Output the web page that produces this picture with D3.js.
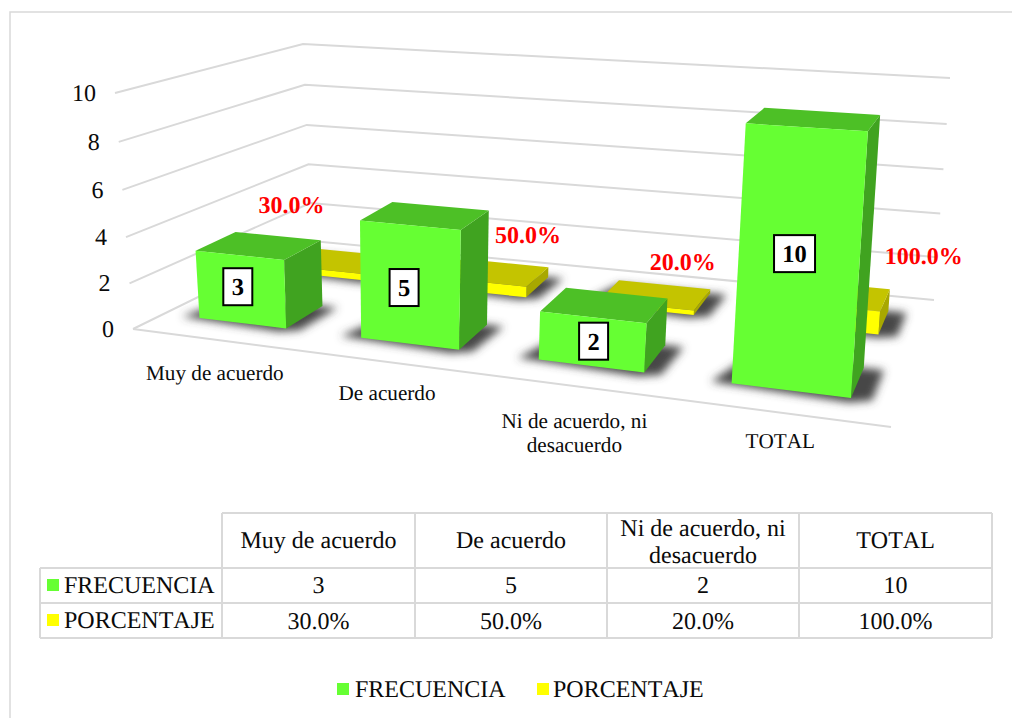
<!DOCTYPE html>
<html><head><meta charset="utf-8">
<script src="https://cdn.jsdelivr.net/npm/d3@7"></script>
<style>html,body{margin:0;padding:0;background:#fff}svg{display:block}text{font-family:"Liberation Serif",serif;font-kerning:none;text-rendering:geometricPrecision}</style>
</head><body><svg id="c" width="1012" height="718"></svg>
<script>
const categories = ["Muy de acuerdo","De acuerdo","Ni de acuerdo, ni desacuerdo","TOTAL"];
const frecuencia = [3,5,2,10];
const porcentaje = [0.3,0.5,0.2,1.0];
const seriesNames = ["FRECUENCIA","PORCENTAJE"];
const yTicks = [0,2,4,6,8,10];
const W=1012,H=718;
const GRID="#d9d9d9",GREEN="#66ff33",YELLOW="#ffff00",INK="#0a0a0a";

// perspective frame: floor and ceiling quads, [front-left, front-right, back-right, back-left]
const floorQuad=[[133,329],[891,427],[934,300],[312,241]];
const topQuad=[[115,93],[909,147],[950,78],[303,44]];
function homography(q){
  const [p0,p1,p2,p3]=q;
  const dx1=p1[0]-p2[0],dx2=p3[0]-p2[0],sx=p0[0]-p1[0]+p2[0]-p3[0];
  const dy1=p1[1]-p2[1],dy2=p3[1]-p2[1],sy=p0[1]-p1[1]+p2[1]-p3[1];
  const den=dx1*dy2-dx2*dy1;
  const g=(sx*dy2-dx2*sy)/den,h=(dx1*sy-sx*dy1)/den;
  const a=p1[0]-p0[0]+g*p1[0],b=p3[0]-p0[0]+h*p3[0],c=p0[0];
  const d=p1[1]-p0[1]+g*p1[1],e=p3[1]-p0[1]+h*p3[1],f=p0[1];
  return (u,w)=>{const z=g*u+h*w+1;return [(a*u+b*w+c)/z,(d*u+e*w+f)/z];};
}
const floorH=homography(floorQuad),topH=homography(topQuad);
const yScale=d3.scaleLinear().domain([0,10]).range([0,1]);
const K=1.045;
function P(u,w,v){
  const t0=yScale(v),t=t0/(t0+(1-t0)*K);
  const a=floorH(u,w),b=topH(u,w);
  return [a[0]+(b[0]-a[0])*t,a[1]+(b[1]-a[1])*t];
}
const uBand=d3.scaleBand().domain(categories).range([0,1]).paddingInner(0.444).paddingOuter(0.222);
const wBand=d3.scaleBand().domain(seriesNames).range([0,1]).paddingInner(0.56).paddingOuter(0.3);
// small corrections of the picture's category spacing along the floor
const uWarp=d3.scaleLinear().domain([0,.25,.5,.75,1]).range([0,.25,.505,.752,1.002]);
const frontShift=d3.scaleLinear().domain([0,.4,.9,1]).range([.002,.0055,0,0]);

const svg=d3.select("#c");
svg.append("rect").attr("width",W).attr("height",H).attr("fill","#fff");
const defs=svg.append("defs");
defs.append("filter").attr("id","blur").attr("x","-40%").attr("y","-80%").attr("width","180%").attr("height","260%")
  .append("feGaussianBlur").attr("stdDeviation",4.5);

// chart frame
svg.append("path").attr("d","M10,718V12H1012").attr("fill","none").attr("stroke",GRID).attr("stroke-width",1.5);

// gridlines
const line=d3.line();
const gridG=svg.append("g").attr("fill","none").attr("stroke",GRID).attr("stroke-width",2);
yTicks.forEach(v=>{
  gridG.append("path").attr("d",line([P(0,0,v),P(0,1,v),P(1,1,v)]));
});
gridG.append("path").attr("d",line([P(0,0,0),P(1,0,0)]));

// y tick labels
svg.append("g").selectAll("text").data(yTicks).join("text")
  .attr("x",v=>P(0,0,v)[0]-19).attr("y",v=>P(0,0,v)[1]+8)
  .attr("text-anchor","end").attr("font-size",24).attr("fill",INK).text(d=>d);

function drawSeries(name,values,cFront,cTop,cSide){
  const g=svg.append("g");
  const w0=wBand(name),w1=w0+wBand.bandwidth();
  categories.forEach((c,i)=>{
    const u0=uWarp(uBand(c)),u1=uWarp(uBand(c)+uBand.bandwidth());
    const shadow=[P(u0-.024,w0-.005,0),P(u1+.0,w0-.03,0),P(u1+.024,w0,0),P(u1+.024,w1,0),P(u0,w1,0)];
    g.append("path").attr("d",line(shadow)+"Z").attr("fill","#474747").attr("filter","url(#blur)");
  });
  categories.forEach((c,i)=>{
    const u0=uWarp(uBand(c)),u1=uWarp(uBand(c)+uBand.bandwidth()),v=values[i];
    const s=frontShift((u0+u1)/2);
    g.append("path").attr("d",line([P(u1+s,w0,0),P(u1,w1,0),P(u1,w1,v),P(u1+s,w0,v)])+"Z").attr("fill",cSide);
    g.append("path").attr("d",line([P(u0+s,w0,v),P(u1+s,w0,v),P(u1,w1,v),P(u0,w1,v)])+"Z").attr("fill",cTop);
    g.append("path").attr("d",line([P(u0+s,w0,0),P(u1+s,w0,0),P(u1+s,w0,v),P(u0+s,w0,v)])+"Z").attr("fill",cFront);
  });
}
drawSeries(seriesNames[1],porcentaje,YELLOW,"#c4c400","#a8a800");
drawSeries(seriesNames[0],frecuencia,GREEN,"#4dc026","#40a320");

// value labels on green bars (nudges are label placement, in px)
const freqNudge=[[-1,-2.5],[0,3],[7,0],[-1.5,-8]];
const lab=svg.append("g");
frecuencia.forEach((v,i)=>{
  const c=categories[i],w=wBand(seriesNames[0]);
  const uc=uBand(c)+uBand.bandwidth()/2;
  const p=P(uc,w,v/2),x=p[0]+freqNudge[i][0],y=p[1]+freqNudge[i][1];
  const bw=String(v).length>1?41:29;
  lab.append("rect").attr("x",x-bw/2).attr("y",y-18.5).attr("width",bw).attr("height",37)
    .attr("fill","#fff").attr("stroke","#000").attr("stroke-width",2);
  lab.append("text").attr("x",x).attr("y",y+8.5).attr("text-anchor","middle")
    .attr("font-size",24.5).attr("font-weight","bold").attr("fill","#000").text(v);
});
// percent labels
const pctNudge=[[-50.5,-56],[38,-37],[31,-32],[93,-39]];
porcentaje.forEach((v,i)=>{
  const c=categories[i],w=wBand(seriesNames[1])+wBand.bandwidth()/2;
  const uc=uBand(c)+uBand.bandwidth()/2;
  const p=P(uc,w,v);
  lab.append("text").attr("x",p[0]+pctNudge[i][0]).attr("y",p[1]+pctNudge[i][1]+8)
    .attr("text-anchor","middle").attr("font-size",24).attr("font-weight","bold").attr("fill","#ff0000")
    .text(d3.format(".1%")(v));
});
// category labels
const catNudge=[[4,34],[8,32],[8,36],[4,29]];
function catLines(c){return c.indexOf(", ni ")>0?["Ni de acuerdo, ni","desacuerdo"]:[c];}
categories.forEach((c,i)=>{
  const p=P(uBand(c)+uBand.bandwidth()/2,0,0);
  catLines(c).forEach((t,j)=>{
    lab.append("text").attr("x",p[0]+catNudge[i][0]).attr("y",p[1]+catNudge[i][1]+7+j*24)
      .attr("text-anchor","middle").attr("font-size",21.2).attr("fill",INK).text(t);
  });
});

// data table
const colX=[222,415,607,799,992],rowY=[513,568,603,638],tableLeft=40;
const t=svg.append("g");
const tl=t.append("g").attr("stroke",GRID).attr("stroke-width",2).attr("fill","none");
tl.append("path").attr("d",`M${colX[0]},${rowY[0]}H${colX[4]}`);
rowY.slice(1).forEach(y=>tl.append("path").attr("d",`M${tableLeft},${y}H${colX[4]}`));
colX.forEach(x=>tl.append("path").attr("d",`M${x},${rowY[0]}V${rowY[3]}`));
tl.append("path").attr("d",`M${tableLeft},${rowY[1]}V${rowY[3]}`);
const FS=24;
categories.forEach((c,i)=>{
  const cx=(colX[i]+colX[i+1])/2;
  const ls=catLines(c);
  ls.forEach((s,j)=>t.append("text").attr("x",cx).attr("y",ls.length>1?536+j*27:548).attr("text-anchor","middle").attr("font-size",FS).attr("fill",INK).text(s));
  t.append("text").attr("x",cx).attr("y",593).attr("text-anchor","middle").attr("font-size",FS).attr("fill",INK).text(frecuencia[i]);
  t.append("text").attr("x",cx).attr("y",629).attr("text-anchor","middle").attr("font-size",FS).attr("fill",INK).text(d3.format(".1%")(porcentaje[i]));
});
[GREEN,YELLOW].forEach((col,k)=>{
  const y=[579,614][k];
  t.append("rect").attr("x",47).attr("y",y).attr("width",12).attr("height",12).attr("fill",col);
  t.append("text").attr("x",64).attr("y",y+14).attr("font-size",FS).attr("fill",INK).text(seriesNames[k]);
});
// legend
[337,537].forEach((x,k)=>{
  t.append("rect").attr("x",x).attr("y",683).attr("width",12).attr("height",12).attr("fill",k?YELLOW:GREEN);
  t.append("text").attr("x",x+18-2*k).attr("y",697).attr("font-size",FS).attr("fill",INK).text(seriesNames[k]);
});
</script></body></html>
